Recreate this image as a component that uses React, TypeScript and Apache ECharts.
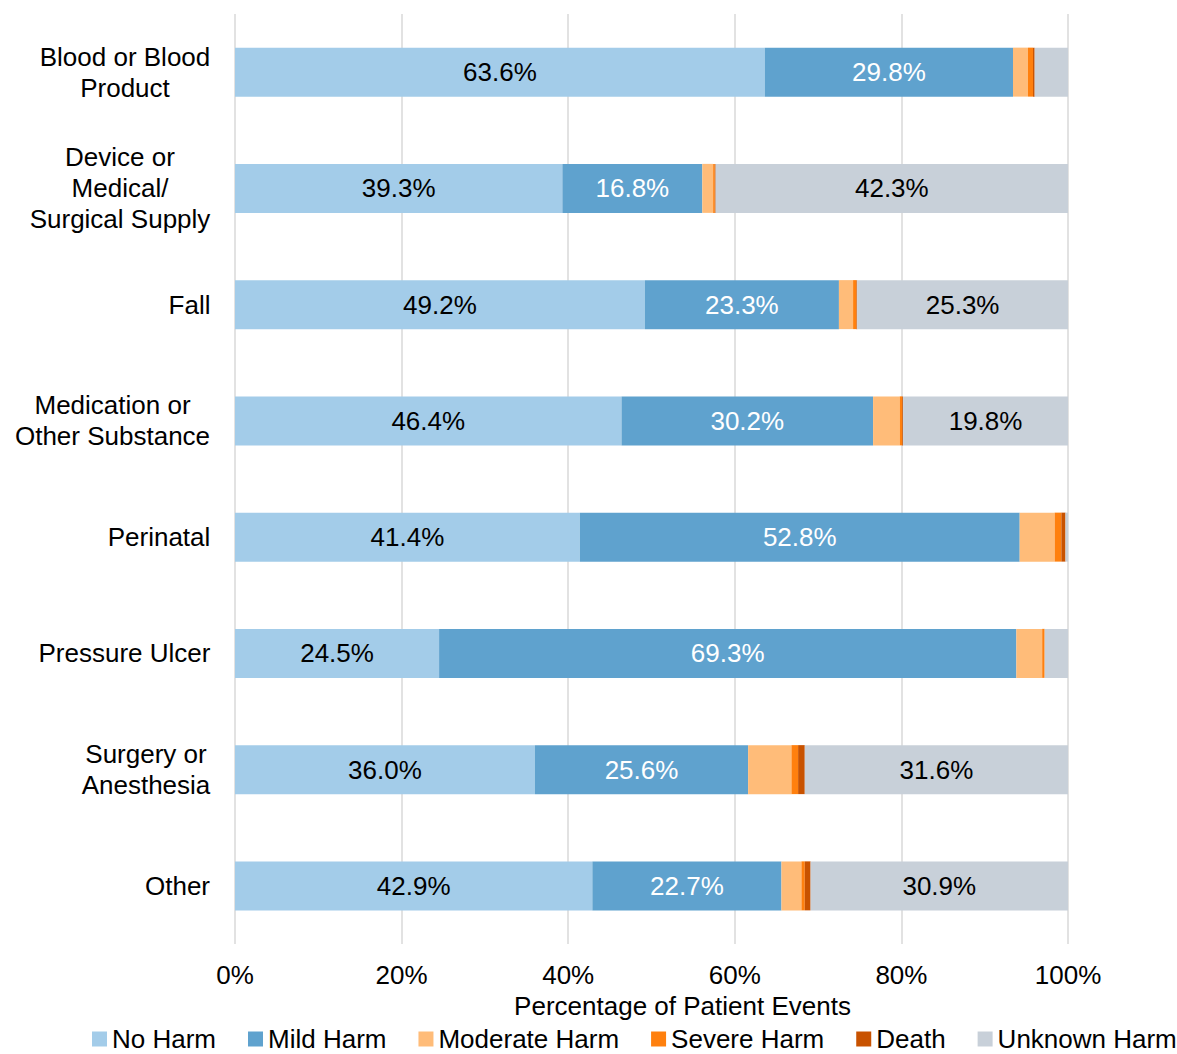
import React, { useEffect, useRef } from "react";
import * as echarts from "echarts";

const categories = [
  "Blood or Blood\nProduct",
  "Device or\nMedical/\nSurgical Supply",
  "Fall",
  "Medication or\nOther Substance",
  "Perinatal",
  "Pressure Ulcer",
  "Surgery or\nAnesthesia",
  "Other",
];
const seriesNames = ["No Harm", "Mild Harm", "Moderate Harm", "Severe Harm", "Death", "Unknown Harm"];
const noHarm = [63.6, 39.3, 49.2, 46.4, 41.4, 24.5, 36.0, 42.9];
const mildHarm = [29.8, 16.8, 23.3, 30.2, 52.8, 69.3, 25.6, 22.7];
const moderateHarm = [1.8, 1.3, 1.7, 3.2, 4.2, 3.1, 5.2, 2.4];
const severeHarm = [0.6, 0.2, 0.4, 0.3, 0.8, 0.3, 0.8, 0.4];
const death = [0.2, 0.1, 0.1, 0.1, 0.5, 0.0, 0.8, 0.7];
const unknownHarm = [4.0, 42.3, 25.3, 19.8, 0.3, 2.8, 31.6, 30.9];
const xTicks = [0, 20, 40, 60, 80, 100];

const colors = ["#a3cce9", "#5fa2ce", "#ffbc79", "#ff800e", "#c85200", "#c8d0d9"];
const labelColors = ["#000000", "#ffffff", null, null, null, "#000000"];
const FONT = '"Liberation Sans", Arial, sans-serif';

export default function App() {
  const ref = useRef<HTMLDivElement>(null);
  useEffect(() => {
    if (!ref.current) return;
    const chart = echarts.init(ref.current, null, { renderer: "svg" });
    const canvas = document.createElement("canvas");
    const ctx = canvas.getContext("2d")!;
    ctx.font = '26px "Liberation Sans"';
    const rich: any = {};
    categories.forEach((c, i) => {
      const w = Math.max(...c.split("\n").map((l) => ctx.measureText(l).width));
      rich["c" + i] = {
        width: Math.ceil(w) + 1,
        align: "center",
        fontSize: 26,
        lineHeight: 31,
        fontFamily: FONT,
        color: "#000",
      };
    });
    const data = [noHarm, mildHarm, moderateHarm, severeHarm, death, unknownHarm];
    chart.setOption({
      animation: false,
      textStyle: { fontFamily: FONT },
      grid: { left: 235, right: 109, top: 14, bottom: 110, containLabel: false },
      legend: {
        data: seriesNames,
        left: 92,
        top: 1026,
        icon: "rect",
        itemWidth: 15,
        itemHeight: 15,
        itemGap: 32,
        padding: 0,
        textStyle: { fontSize: 26, lineHeight: 22, color: "#000", fontFamily: FONT },
      },
      xAxis: {
        type: "value",
        min: xTicks[0],
        max: xTicks[xTicks.length - 1],
        interval: 20,
        axisLine: { show: false },
        axisTick: { show: false },
        splitLine: { show: true, lineStyle: { color: "#d9d9d9", width: 1.5 } },
        axisLabel: { formatter: "{value}%", fontSize: 26, color: "#000", margin: 18, fontFamily: FONT },
        name: "Percentage of Patient Events",
        nameLocation: "middle",
        nameGap: 49,
        nameTextStyle: { fontSize: 26, color: "#000", fontFamily: FONT, padding: [0, 0, 0, 62] },
      },
      yAxis: {
        type: "category",
        data: categories,
        inverse: true,
        axisLine: { show: false },
        axisTick: { show: false },
        axisLabel: {
          margin: 24,
          align: "right",
          formatter: (v: string, i: number) =>
            v.split("\n").map((l) => `{c${i}|${l}}`).join("\n"),
          rich,
        },
      },
      series: seriesNames.map((name, si) => ({
        name,
        type: "bar",
        stack: "total",
        barWidth: 49,
        itemStyle: { color: colors[si] },
        label: {
          show: labelColors[si] !== null,
          position: "inside",
          fontSize: 26,
          color: labelColors[si] || "#000",
          fontFamily: FONT,
          formatter: (p: any) => (p.value >= 10 ? p.value.toFixed(1) + "%" : ""),
        },
        data: data[si],
      })),
    });
    return () => chart.dispose();
  }, []);
  return (
    <div
      ref={ref}
      style={{ position: "fixed", left: 0, top: 0, width: 1177, height: 1054, background: "#fff" }}
    />
  );
}
